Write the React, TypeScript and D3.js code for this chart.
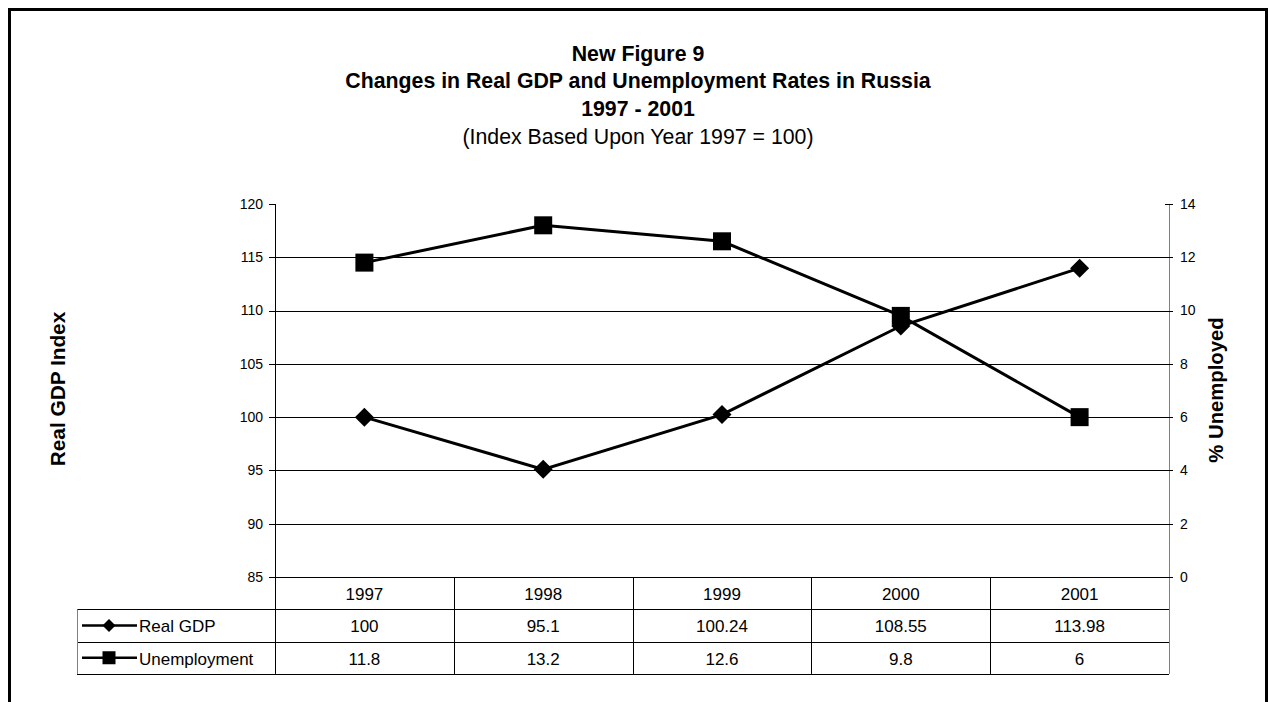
import React from "react";
import * as d3 from "d3";

const years = ["1997", "1998", "1999", "2000", "2001"];
const gdpValues = [100, 95.1, 100.24, 108.55, 113.98];
const unemploymentValues = [11.8, 13.2, 12.6, 9.8, 6];
const leftTicks = [85, 90, 95, 100, 105, 110, 115, 120];
const rightTicks = [0, 2, 4, 6, 8, 10, 12, 14];
const titleLines = ["New Figure 9", "Changes in Real GDP and Unemployment Rates in Russia", "1997 - 2001"];
const subtitle = "(Index Based Upon Year 1997 = 100)";
const seriesNames = ["Real GDP", "Unemployment"];

const FONT = "Arial, 'Liberation Sans', sans-serif";

export default function App() {
  const W = 1268, H = 702;
  const left = 275, right = 1169, top = 204, bottom = 577;
  const rowH = 32.3;
  const tableLeft = 77;

  const x = d3.scaleBand<string>().domain(years).range([left, right]).padding(0);
  const yL = d3.scaleLinear().domain([85, 120]).range([bottom, top]);
  const yR = d3.scaleLinear().domain([0, 14]).range([bottom, top]);
  const cx = (y: string) => (x(y) as number) + x.bandwidth() / 2;

  const gdpLine = d3.line<number>().x((_, i) => cx(years[i])).y((d) => yL(d));
  const unLine = d3.line<number>().x((_, i) => cx(years[i])).y((d) => yR(d));

  const diamond = (px: number, py: number, r: number) =>
    `M${px},${py - r}L${px + r},${py}L${px},${py + r}L${px - r},${py}Z`;

  const row1 = bottom + rowH;
  const row2 = bottom + 2 * rowH;
  const row3 = bottom + 3 * rowH;
  const tableRows = [
    { y0: row1, name: seriesNames[0], vals: gdpValues.map(String), marker: "diamond" },
    { y0: row2, name: seriesNames[1], vals: unemploymentValues.map(String), marker: "square" },
  ];

  return (
    <svg width={W} height={H} style={{ position: "absolute", left: 0, top: 0, background: "#fff" }} fontFamily={FONT}>
      <rect x={0} y={0} width={W} height={H} fill="#fff" />
      <rect x={9.5} y={9.5} width={1257} height={900} fill="none" stroke="#000" strokeWidth={3} />

      {/* titles */}
      {titleLines.map((t, i) => (
        <text key={t} x={638} y={61 + i * 27.3} textAnchor="middle" fontWeight="bold" fontSize={21.3}>{t}</text>
      ))}
      <text x={638} y={144} textAnchor="middle" fontSize={21.3}>{subtitle}</text>

      {/* gridlines */}
      {leftTicks.filter((t) => t !== 120).map((t) => (
        <line key={"g" + t} x1={left} x2={right} y1={Math.round(yL(t)) + 0.5} y2={Math.round(yL(t)) + 0.5} stroke="#000" strokeWidth={1} />
      ))}

      {/* left axis */}
      <line x1={left + 0.5} x2={left + 0.5} y1={top} y2={row3} stroke="#000" strokeWidth={1} />
      {leftTicks.map((t) => (
        <g key={"l" + t}>
          <line x1={left - 6} x2={left} y1={Math.round(yL(t)) + 0.5} y2={Math.round(yL(t)) + 0.5} stroke="#000" />
          <text x={263} y={yL(t)} dy="0.35em" textAnchor="end" fontSize={14}>{t}</text>
        </g>
      ))}

      {/* right axis */}
      <line x1={right + 0.5} x2={right + 0.5} y1={top} y2={row3} stroke="#808080" strokeWidth={1} />
      {rightTicks.map((t) => (
        <g key={"r" + t}>
          <line x1={right - 4} x2={right + 4} y1={Math.round(yR(t)) + 0.5} y2={Math.round(yR(t)) + 0.5} stroke="#000" />
          <text x={1180} y={yR(t)} dy="0.35em" textAnchor="start" fontSize={14}>{t}</text>
        </g>
      ))}

      {/* axis titles */}
      <text transform={`translate(65,389) rotate(-90)`} textAnchor="middle" fontWeight="bold" fontSize={20.8}>Real GDP Index</text>
      <text transform={`translate(1223,390) rotate(-90)`} textAnchor="middle" fontWeight="bold" fontSize={20.3}>% Unemployed</text>

      {/* table */}
      {[row1, row2, row3].map((ry) => (
        <line key={"h" + ry} x1={tableLeft} x2={right} y1={Math.round(ry) + 0.5} y2={Math.round(ry) + 0.5} stroke="#000" />
      ))}
      <line x1={tableLeft + 0.5} x2={tableLeft + 0.5} y1={row1} y2={row3} stroke="#808080" />
      {years.slice(1).map((yr) => (
        <line key={"v" + yr} x1={Math.round(x(yr) as number) + 0.5} x2={Math.round(x(yr) as number) + 0.5} y1={bottom} y2={row3} stroke="#000" />
      ))}
      {years.map((yr) => (
        <text key={"c" + yr} x={cx(yr)} y={bottom + 23} textAnchor="middle" fontSize={17}>{yr}</text>
      ))}
      {tableRows.map((r) => (
        <g key={r.name}>
          <line x1={82} x2={137} y1={r.y0 + rowH / 2} y2={r.y0 + rowH / 2} stroke="#000" strokeWidth={2.5} />
          {r.marker === "diamond" ? (
            <path d={diamond(109, r.y0 + rowH / 2, 6.5)} fill="#000" />
          ) : (
            <rect x={109 - 6.5} y={r.y0 + rowH / 2 - 6.5} width={13} height={13} fill="#000" />
          )}
          <text x={139} y={r.y0 + 23} fontSize={17}>{r.name}</text>
          {r.vals.map((v, i) => (
            <text key={i} x={cx(years[i])} y={r.y0 + 23} textAnchor="middle" fontSize={17}>{v}</text>
          ))}
        </g>
      ))}

      {/* series */}
      <path d={gdpLine(gdpValues) || ""} fill="none" stroke="#000" strokeWidth={3} />
      <path d={unLine(unemploymentValues) || ""} fill="none" stroke="#000" strokeWidth={3} />
      {gdpValues.map((v, i) => (
        <path key={"d" + i} d={diamond(cx(years[i]), yL(v), 9.5)} fill="#000" />
      ))}
      {unemploymentValues.map((v, i) => (
        <rect key={"s" + i} x={cx(years[i]) - 9} y={yR(v) - 9} width={18} height={18} fill="#000" />
      ))}
    </svg>
  );
}
